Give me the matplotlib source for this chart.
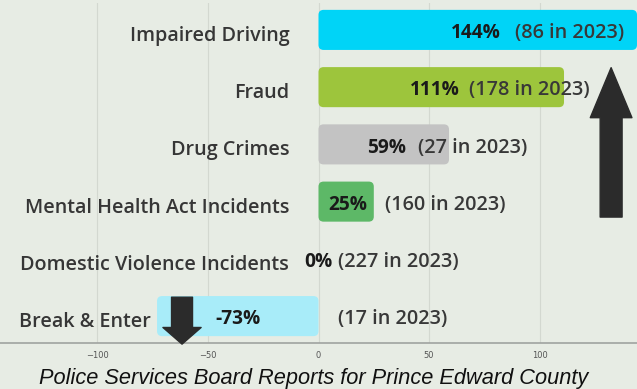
import matplotlib.pyplot as plt
import numpy as np
from matplotlib.patches import FancyBboxPatch

# Change in incidents vs. previous year, with 2023 counts
categories = ['Impaired Driving', 'Fraud', 'Drug Crimes',
              'Mental Health Act Incidents', 'Domestic Violence Incidents',
              'Break & Enter']
change_pct = [144, 111, 59, 25, 0, -73]
count_2023 = [86, 178, 27, 160, 227, 17]
bar_colors = ['#00d4f7', '#9dc53c', '#c3c3c3', '#5db867', '#e7ece4', '#a8ecf9']

# where the text next to each bar sits (data units)
pct_right = [82.5, 64, 39.5, 22, 6.5, None]
count_left = [89, 68, 45, 30, 9, 9]

BG = '#e7ece4'
DARK = '#2b2b2b'
LABEL_FONT = 'Open Sans'

fig = plt.figure(figsize=(6.37, 3.89), dpi=100, facecolor=BG)
ax = fig.add_axes([0, 46 / 389, 1, 340 / 389], facecolor=BG)

y = np.arange(len(categories))
bars = ax.barh(y, change_pct, height=0.7)

# rounded bars, corners kept round despite the unequal x/y scale
xr, yr = 2.3, 0.088
for bar, c in zip(bars, bar_colors):
    bar.set_visible(False)
    w = bar.get_width()
    if w == 0:
        continue
    x0 = min(bar.get_x(), bar.get_x() + w)
    ax.add_patch(FancyBboxPatch((x0, bar.get_y()), abs(w), bar.get_height(),
                                boxstyle=f'round,pad=0,rounding_size={xr}',
                                mutation_aspect=yr / xr, fc=c, ec='none', zorder=2))

cat_kw = dict(textcoords='offset points', ha='right', va='baseline',
              fontsize=14.2, fontweight='semibold', family=LABEL_FONT,
              color='#363636', zorder=3)
pct_kw = dict(textcoords='offset points', va='baseline', fontsize=13.8,
              fontweight='bold', family=LABEL_FONT, color='#1a1a1a', zorder=3)

for i, (cat, v, n) in enumerate(zip(categories, change_pct, count_2023)):
    if v < 0:
        ax.annotate(cat, (v, i), xytext=(-4.5, -8), **cat_kw)
        ax.annotate(f'{v}%', (v / 2, i), xytext=(0, -6), ha='center', **pct_kw)
    else:
        ax.annotate(cat, (0, i), xytext=(-21, -8), **cat_kw)
        ax.annotate(f'{v}%', (pct_right[i], i), xytext=(0, -6), ha='right', **pct_kw)
    ax.annotate(f'({n} in 2023)', (count_left[i], i), xytext=(0, -6),
                textcoords='offset points', ha='left', va='baseline',
                fontsize=14.3, fontweight='semibold', family=LABEL_FONT,
                color='#383838', zorder=3)

# trend arrows
ax.annotate('', xy=(132.3, 0.66), xytext=(132.3, 3.27),
            arrowprops=dict(arrowstyle='simple,head_length=36,head_width=30,tail_width=15.8',
                            mutation_scale=1, color=DARK, shrinkA=0, shrinkB=0),
            zorder=4, annotation_clip=False)
ax.annotate('', xy=(-61.7, 5.49), xytext=(-61.7, 4.67),
            arrowprops=dict(arrowstyle='simple,head_length=12,head_width=27.5,tail_width=15.1',
                            mutation_scale=1, color=DARK, shrinkA=0, shrinkB=0),
            zorder=4, annotation_clip=False)

ax.set_xlim(-144, 144)
ax.set_ylim(5.47, -0.47)
ax.set_yticks([])
ax.set_xticks([-100, -50, 0, 50, 100])
ax.tick_params(axis='x', length=0, pad=6, labelsize=6, labelcolor='#555555')
ax.grid(axis='x', color='#d3d8d0', linewidth=0.8, zorder=0)
ax.set_axisbelow(True)
for s in ['top', 'right', 'left']:
    ax.spines[s].set_visible(False)
ax.spines['bottom'].set_color('#a0a3a0')
ax.spines['bottom'].set_linewidth(1.2)

fig.text(0.493, 5 / 389, 'Police Services Board Reports for Prince Edward County',
         ha='center', va='baseline', style='italic', family='Liberation Sans',
         fontsize=15.7, color='#111111')

fig.savefig('out.png', dpi=100, facecolor=BG)
